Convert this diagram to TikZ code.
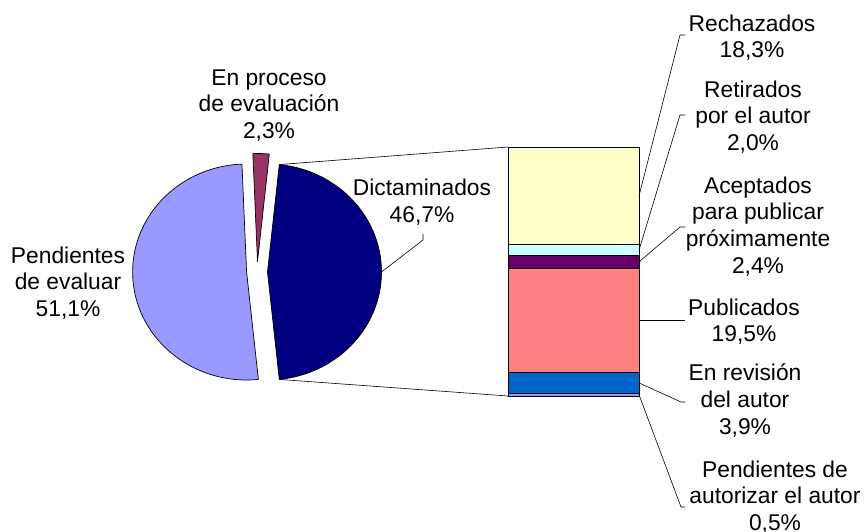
\documentclass[tikz,border=0pt]{standalone}
\usepackage{fontspec}
\setmainfont{Liberation Sans}
\newcommand\lblfont{\fontsize{22.8}{26.8}\selectfont}
\definecolor{cPendEval}{HTML}{9999FF}
\definecolor{cProceso}{HTML}{993366}
\definecolor{cDict}{HTML}{000080}
\definecolor{cRech}{HTML}{FFFFCC}
\definecolor{cRetir}{HTML}{CCFFFF}
\definecolor{cAcept}{HTML}{660066}
\definecolor{cPubl}{HTML}{FF8080}
\definecolor{cRevis}{HTML}{0066CC}
\definecolor{cPendAut}{HTML}{9999FF}
\begin{document}
\begin{tikzpicture}[x=1pt,y=-1pt,
  lbl/.style={align=center, inner sep=0pt, anchor=north, font=\lblfont},
  slice/.style={draw=black, line width=0.7pt, line join=round},
  seg/.style={draw=black, line width=0.7pt},
  lead/.style={draw=black, line width=0.6pt}]
\useasboundingbox (0,0) rectangle (865,532);

% ---- pie (exploded slices) ----
\coordinate (vd) at (267.5,272);
\coordinate (ve) at (257.5,261.5);
\coordinate (vp) at (246.6,272);
\path (vd) ++(-84.06:114 and 108) coordinate (dtop);
\path (vd) ++(84.06:114 and 108) coordinate (dbot);
\path (vd) ++(0:114 and 108) coordinate (dright);

\path[slice, fill=cPendEval] (vp) -- ++(-275.94:114 and 108)
  arc[start angle=-275.94, end angle=-92.34, x radius=114, y radius=108] -- cycle;
\path[slice, fill=cProceso] (ve) -- ++(-92.34:114 and 108)
  arc[start angle=-92.34, end angle=-84.06, x radius=114, y radius=108] -- cycle;
\path[slice, fill=cDict] (vd) -- (dtop)
  arc[start angle=-84.06, end angle=84.06, x radius=114, y radius=108] -- cycle;

% ---- bar ----
\coordinate (bartl) at (508,147);
\coordinate (barbl) at (508,396);
\path[seg, fill=cRech]    (508,147)    rectangle (639,244.78);
\path[seg, fill=cRetir]   (508,244.78) rectangle (639,255.47);
\path[seg, fill=cAcept]   (508,255.47) rectangle (639,268.29);
\path[seg, fill=cPubl]    (508,268.29) rectangle (639,372.48);
\path[seg, fill=cRevis]   (508,372.48) rectangle (639,393.32);
\path[seg, fill=cPendAut] (508,393.32) rectangle (639,396);

% connectors pie -> bar
\draw[lead] (dtop) -- (bartl);
\draw[lead] (dbot) -- (barbl);

% ---- labels ----
\node[lbl] (lPendEval) at (68,244.2) {\strut Pendientes\\de evaluar\\51,1\%};
\node[lbl] (lProceso) at (269,66.2) {\strut En proceso\\de evaluación\\2,3\%};
\node[lbl] (lDict) at (422,176.7) {\strut Dictaminados\\46,7\%};
\node[lbl] (lRech) at (752,12.2) {\strut Rechazados\\18,3\%};
\node[lbl] (lRetir) at (753,78.2) {\strut Retirados\\por el autor\\2,0\%};
\node[lbl] (lAcept) at (758,174.2) {\strut Aceptados\\para publicar\\próximamente\\2,4\%};
\node[lbl] (lPubl) at (744,296.2) {\strut Publicados\\19,5\%};
\node[lbl] (lRevis) at (745,361.7) {\strut En revisión\\del autor\\3,9\%};
\node[lbl] (lPendAut) at (775,458.2) {\strut Pendientes de\\autorizar el autor\\0,5\%};

% ---- leader lines ----
\coordinate (dkA) at (423,240);
\coordinate (dkB) at (423,234);
\draw[lead] (dright) -- (dkA) -- (dkB);

\coordinate (mRech) at (639,195.9);
\coordinate (mRetir) at (639,250.1);
\coordinate (mAcept) at (639,261.9);
\coordinate (mPubl) at (639,320.4);
\coordinate (mRevis) at (639,382.9);
\coordinate (mPendAut) at (639,394.7);

\coordinate (kRech) at (680,35);   \coordinate (eRech) at (685,35);
\coordinate (kRetir) at (680,115); \coordinate (eRetir) at (685,115);
\coordinate (kAcept) at (680,227); \coordinate (eAcept) at (685,227);
\coordinate (ePubl) at (685,320.4);
\coordinate (kRevis) at (681,402); \coordinate (eRevis) at (685,402);
\coordinate (kPendAut) at (681,507); \coordinate (ePendAut) at (685,507);

\draw[lead] (mRech) -- (kRech) -- (eRech);
\draw[lead] (mRetir) -- (kRetir) -- (eRetir);
\draw[lead] (mAcept) -- (kAcept) -- (eAcept);
\draw[lead] (mPubl) -- (ePubl);
\draw[lead] (mRevis) -- (kRevis) -- (eRevis);
\draw[lead] (mPendAut) -- (kPendAut) -- (ePendAut);
\end{tikzpicture}
\end{document}
